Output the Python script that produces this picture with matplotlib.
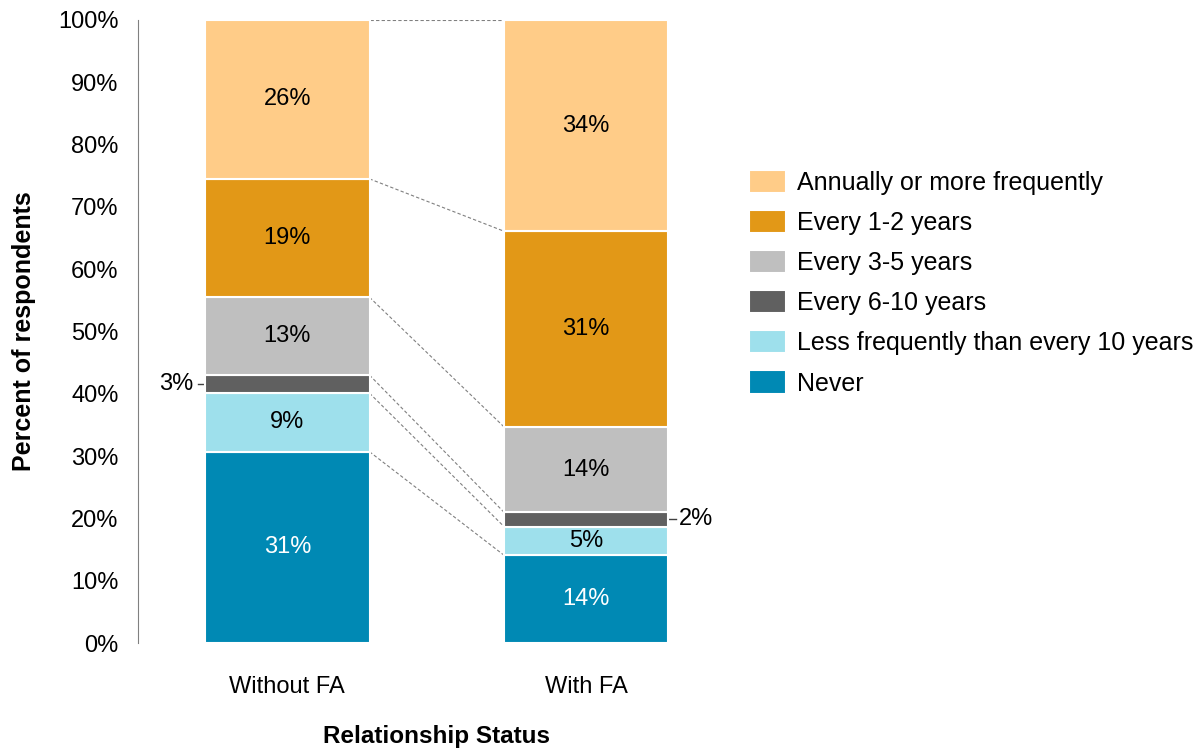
import numpy as np
import matplotlib.pyplot as plt

plt.rcParams['font.family'] = ['Liberation Sans', 'DejaVu Sans']

# data
groups = ["Without FA", "With FA"]
categories = ["Never", "Less frequently than every 10 years", "Every 6-10 years",
              "Every 3-5 years", "Every 1-2 years", "Annually or more frequently"]
without_fa = [30.7, 9.4, 2.9, 12.5, 19.0, 25.5]
with_fa = [14.1, 4.6, 2.3, 13.7, 31.4, 33.9]
labels_without = ["31%", "9%", "3%", "13%", "19%", "26%"]
labels_with = ["14%", "5%", "2%", "14%", "31%", "34%"]
colors = ["#0089B4", "#9EE0EC", "#606060", "#BFBFBF", "#E29817", "#FFCC88"]
text_colors = ["white", "black", "black", "black", "black", "black"]

fig = plt.figure(figsize=(11.99, 7.49), dpi=100)
ax = fig.add_axes([0.1151, 0.1415, 0.4983, 0.8318])

x = np.arange(len(groups))
width = 0.55
data = np.array([without_fa, with_fa])
bottoms = np.zeros(len(groups))
for i, cat in enumerate(categories):
    ax.bar(x, data[:, i], width, bottom=bottoms, color=colors[i],
           edgecolor="white", linewidth=1.5, label=cat, zorder=3)
    bottoms += data[:, i]

# value labels
fs = 17
all_labels = [labels_without, labels_with]
for g in range(len(groups)):
    b = 0
    for i in range(len(categories)):
        v = data[g, i]
        mid = b + v / 2
        if i == 2:
            # small segment: label outside with a leader tick
            if g == 0:
                ax.plot([x[g] - width / 2 - 0.025, x[g] - width / 2], [mid, mid],
                        color="#404040", lw=1, clip_on=False)
                ax.text(x[g] - width / 2 - 0.04, mid, all_labels[g][i], ha="right",
                        va="center", fontsize=fs)
            else:
                ax.plot([x[g] + width / 2, x[g] + width / 2 + 0.025], [mid, mid],
                        color="#404040", lw=1, clip_on=False)
                ax.text(x[g] + width / 2 + 0.035, mid, all_labels[g][i], ha="left",
                        va="center", fontsize=fs)
        else:
            ax.text(x[g], mid, all_labels[g][i], ha="center", va="center",
                    fontsize=fs, color=text_colors[i])
        b += v

# dashed connectors between boundaries
cum0 = np.cumsum(without_fa)
cum1 = np.cumsum(with_fa)
for a, c in zip(cum0, cum1):
    ax.plot([x[0] + width / 2, x[1] - width / 2], [a, c], ls=(0, (3, 2)),
            color="#808080", lw=0.8, zorder=2)

ax.set_xlim(-0.5, 1.5)
ax.set_ylim(0, 100)
ax.set_yticks(np.arange(0, 101, 10))
ax.set_yticklabels([f"{t}%" for t in range(0, 101, 10)], fontsize=fs)
ax.set_xticks(x)
ax.set_xticklabels(groups, fontsize=fs)
ax.tick_params(axis="y", length=0, pad=14)
ax.tick_params(axis="x", length=0, pad=24)
for s in ["top", "right", "bottom"]:
    ax.spines[s].set_visible(False)
ax.spines["left"].set_color("#808080")
ax.set_ylabel("Percent of respondents", fontsize=18, fontweight="bold", labelpad=16)
ax.set_xlabel("Relationship Status", fontsize=17.5, fontweight="bold", labelpad=19)

handles, labs = ax.get_legend_handles_labels()
fig.legend(handles[::-1], labs[::-1], loc="upper left", bbox_to_anchor=(0.614, 0.79),
           frameon=False, fontsize=18, handlelength=1.5, handleheight=1.05,
           labelspacing=0.6, handletextpad=0.44, borderpad=0)

fig.savefig("out.png", dpi=100)
